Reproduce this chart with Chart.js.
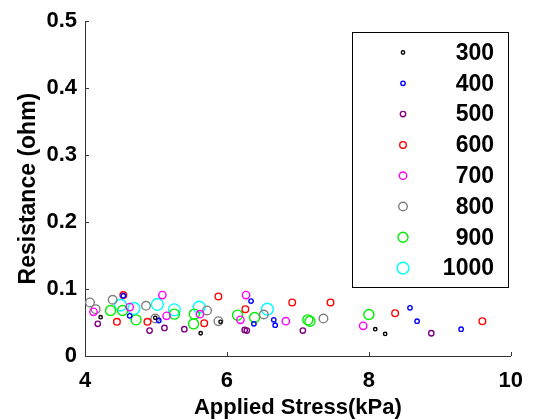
<!DOCTYPE html>
<html>
<head>
<meta charset="utf-8">
<script src="https://cdn.jsdelivr.net/npm/chart.js@4.4.1/dist/chart.umd.min.js"></script>
<style>
  html, body { margin: 0; padding: 0; background: #fff; }
</style>
</head>
<body>
<canvas id="resistanceChart" width="535" height="420"></canvas>
<script>
// series names (legend)
const seriesNames = ['300', '400', '500', '600', '700', '800', '900', '1000'];

// applied stress (kPa) / resistance (ohm) for each series
const stress300 = [4.22, 4.99, 5.63, 5.91, 8.09, 8.23];
const res300    = [0.058, 0.057, 0.034, 0.051, 0.040, 0.033];

const stress400 = [4.54, 4.63, 5.04, 6.34, 6.38, 6.66, 6.68, 8.58, 8.68, 9.30];
const res400    = [0.090, 0.060, 0.053, 0.082, 0.048, 0.054, 0.046, 0.072, 0.052, 0.040];

const stress500 = [4.18, 4.91, 5.12, 5.40, 6.25, 6.28, 7.07, 8.88];
const res500    = [0.048, 0.038, 0.042, 0.040, 0.039, 0.038, 0.038, 0.034];

const stress600 = [4.45, 4.54, 4.88, 5.68, 5.88, 6.26, 6.92, 7.46, 8.37, 9.60];
const res600    = [0.051, 0.091, 0.051, 0.049, 0.089, 0.070, 0.080, 0.080, 0.064, 0.052];

const stress700 = [4.12, 4.63, 5.09, 5.15, 5.62, 6.19, 6.27, 6.83, 7.92];
const res700    = [0.066, 0.073, 0.091, 0.060, 0.0625, 0.054, 0.091, 0.052, 0.045];

const stress800 = [4.07, 4.15, 4.39, 4.86, 4.99, 5.72, 5.88, 6.52, 7.36];
const res800    = [0.080, 0.070, 0.084, 0.075, 0.056, 0.068, 0.052, 0.062, 0.056];

const stress900 = [4.36, 4.53, 4.72, 5.26, 5.53, 5.54, 6.15, 6.39, 7.14, 7.17, 8.00];
const res900    = [0.068, 0.068, 0.054, 0.0625, 0.048, 0.0625, 0.061, 0.0575, 0.054, 0.052, 0.062];

const stress1000 = [4.50, 4.69, 5.02, 5.26, 5.61, 6.57];
const res1000    = [0.076, 0.071, 0.077, 0.069, 0.073, 0.070];

const xTicks = [4, 6, 8, 10];
const yTicks = [0, 0.1, 0.2, 0.3, 0.4, 0.5];

// styles
const seriesColors = ['#000000', '#0000ff', '#800080', '#ff0000', '#ff00ff', '#808080', '#00ee00', '#00ffff'];
const markerSizes = [1.7, 2.2, 2.7, 3.3, 3.7, 4.3, 5.0, 5.9];
const axisColor = '#333333';
const fontFamily = '"Liberation Sans", Arial, sans-serif';

const allStress = [stress300, stress400, stress500, stress600, stress700, stress800, stress900, stress1000];
const allRes = [res300, res400, res500, res600, res700, res800, res900, res1000];

const datasets = seriesNames.map((name, i) => ({
  label: name,
  data: allStress[i].map((x, j) => ({ x: x, y: allRes[i][j] })),
  showLine: false,
  pointStyle: 'circle',
  pointRadius: markerSizes[i],
  pointHoverRadius: markerSizes[i],
  pointBorderWidth: 1.4,
  borderColor: seriesColors[i],
  backgroundColor: 'rgba(0,0,0,0)',
}));

// short inward tick marks, like the original figure
const innerTicks = {
  id: 'innerTicks',
  afterDraw(chart) {
    const ctx = chart.ctx;
    const { left, bottom } = chart.chartArea;
    const len = 4;
    ctx.save();
    ctx.strokeStyle = axisColor;
    ctx.lineWidth = 1;
    ctx.beginPath();
    xTicks.forEach((v) => {
      const px = Math.round(chart.scales.x.getPixelForValue(v)) + 0.5;
      ctx.moveTo(px, bottom);
      ctx.lineTo(px, bottom - len);
    });
    yTicks.forEach((v) => {
      const py = Math.round(chart.scales.y.getPixelForValue(v)) + 0.5;
      ctx.moveTo(left, py);
      ctx.lineTo(left + len, py);
    });
    ctx.stroke();
    ctx.restore();
  },
};

// boxed legend inside the plot, labels right aligned
const boxLegend = {
  id: 'boxLegend',
  afterDatasetsDraw(chart) {
    const ctx = chart.ctx;
    const box = { x: 352.5, y: 32.5, w: 156, h: 255 };
    ctx.save();
    ctx.fillStyle = '#ffffff';
    ctx.fillRect(box.x, box.y, box.w, box.h);
    ctx.strokeStyle = '#000000';
    ctx.lineWidth = 1;
    ctx.strokeRect(box.x, box.y, box.w, box.h);
    ctx.font = 'bold 23px ' + fontFamily;
    ctx.textAlign = 'right';
    ctx.textBaseline = 'middle';
    chart.data.datasets.forEach((ds, i) => {
      const cy = box.y + 20 + i * 30.8;
      ctx.beginPath();
      ctx.arc(403, cy, ds.pointRadius, 0, Math.PI * 2);
      ctx.strokeStyle = ds.borderColor;
      ctx.lineWidth = 1.4;
      ctx.stroke();
      ctx.fillStyle = '#000000';
      ctx.fillText(ds.label, 494, cy + 1);
    });
    ctx.restore();
  },
};

const ctx = document.getElementById('resistanceChart').getContext('2d');
new Chart(ctx, {
  type: 'scatter',
  data: { datasets: datasets },
  options: {
    responsive: false,
    animation: false,
    devicePixelRatio: 1,
    layout: { padding: { top: 20, right: 15, left: 0, bottom: 0 } },
    plugins: {
      legend: { display: false },
      tooltip: { enabled: false },
    },
    scales: {
      x: {
        type: 'linear',
        min: 4,
        max: 10,
        afterFit(scale) { scale.height = 64; },
        afterBuildTicks(scale) { scale.ticks = xTicks.map((v) => ({ value: v })); },
        grid: { display: false, drawTicks: false },
        border: { display: true, color: axisColor, width: 1 },
        ticks: {
          padding: 12,
          color: '#000',
          font: { family: fontFamily, size: 22, weight: 'bold' },
          maxRotation: 0,
        },
        title: {
          display: true,
          text: 'Applied Stress(kPa)',
          color: '#000',
          font: { family: fontFamily, size: 22, weight: 'bold', lineHeight: 1 },
          padding: { top: 0, bottom: 1 },
        },
      },
      y: {
        type: 'linear',
        min: 0,
        max: 0.5,
        afterFit(scale) { scale.width = 85; },
        afterBuildTicks(scale) { scale.ticks = yTicks.map((v) => ({ value: v })); },
        grid: { display: false, drawTicks: false },
        border: { display: true, color: axisColor, width: 1 },
        ticks: {
          padding: 8,
          color: '#000',
          font: { family: fontFamily, size: 22, weight: 'bold' },
          callback: (v) => (v === 0 ? '0' : String(Math.round(v * 10) / 10)),
        },
        title: {
          display: true,
          text: 'Resistance (ohm)',
          color: '#000',
          font: { family: fontFamily, size: 23, weight: 'bold', lineHeight: 1 },
          padding: { top: 17, bottom: 0 },
        },
      },
    },
  },
  plugins: [innerTicks, boxLegend],
});
</script>
</body>
</html>
